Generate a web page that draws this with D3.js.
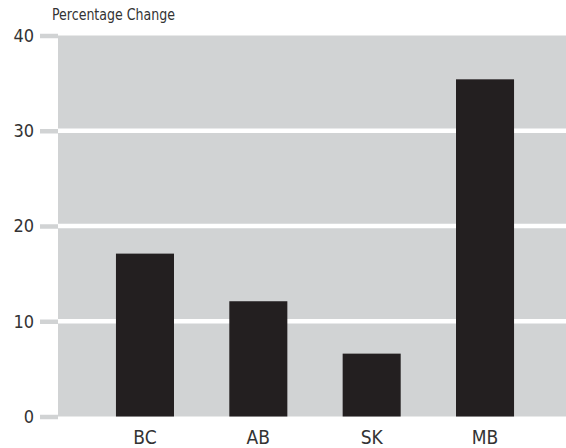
<!DOCTYPE html>
<html>
<head>
<meta charset="utf-8">
<script src="https://cdn.jsdelivr.net/npm/d3@7"></script>
<style>
  html, body { margin: 0; padding: 0; background: #fff; }
  svg { display: block; }
  text { font-family: "DejaVu Sans Condensed", "Liberation Sans Narrow", sans-serif; fill: #333333; }
</style>
</head>
<body>
<svg id="chart" width="566" height="448"></svg>
<script>
const categories = ["BC", "AB", "SK", "MB"];
const values = [17.1, 12.1, 6.6, 35.4];
const yTicks = [0, 10, 20, 30, 40];
const yTitle = "Percentage Change";

const W = 566, H = 448;
const plot = { left: 58, right: 566, top: 35.5, bottom: 416.5 };
const FONT = "'DejaVu Sans Condensed', 'Liberation Sans Narrow', sans-serif";

const svg = d3.select("#chart");

const y = d3.scaleLinear().domain([0, 40]).range([plot.bottom, plot.top]);
const x = d3.scaleBand().domain(categories)
  .range([88.3, 541.7]).paddingInner(0.488).paddingOuter(0.244);

// background
svg.append("rect")
  .attr("x", plot.left).attr("y", y(40))
  .attr("width", plot.right - plot.left).attr("height", y(0) - y(40))
  .attr("fill", "#d1d3d4");

// gridlines
svg.append("g").selectAll("line")
  .data(yTicks.filter(d => d > 0 && d < 40))
  .join("line")
  .attr("x1", plot.left).attr("x2", plot.right)
  .attr("y1", d => y(d)).attr("y2", d => y(d))
  .attr("stroke", "#ffffff").attr("stroke-width", 4.5);

// y axis
const yAxis = d3.axisLeft(y).tickValues(yTicks).tickSize(18).tickPadding(6).tickFormat(d3.format("d"));
const gy = svg.append("g").attr("transform", `translate(${plot.left},0)`).call(yAxis);
gy.select(".domain").remove();
gy.selectAll(".tick line").attr("stroke", "#d1d3d4").attr("stroke-width", 4.5);
gy.selectAll(".tick text").attr("font-size", 18).attr("fill", "#333333")
  .attr("font-family", FONT);

// bars
svg.append("g").selectAll("rect")
  .data(categories.map((c, i) => ({ c, v: values[i] })))
  .join("rect")
  .attr("x", d => x(d.c)).attr("width", x.bandwidth())
  .attr("y", d => y(d.v)).attr("height", d => y(0) - y(d.v))
  .attr("fill", "#231f20");

// x axis
const xAxis = d3.axisBottom(x).tickSize(0).tickPadding(0);
const gx = svg.append("g").attr("transform", `translate(0,${plot.bottom})`).call(xAxis);
gx.select(".domain").remove();
gx.selectAll(".tick text").attr("font-size", 19).attr("fill", "#333333")
  .attr("dy", null).attr("y", 27.5)
  .attr("font-family", FONT);

// title
svg.append("text").attr("x", 52).attr("y", 19.5)
  .attr("font-size", 15)
  .attr("textLength", 123).attr("lengthAdjust", "spacingAndGlyphs")
  .text(yTitle);
</script>
</body>
</html>
